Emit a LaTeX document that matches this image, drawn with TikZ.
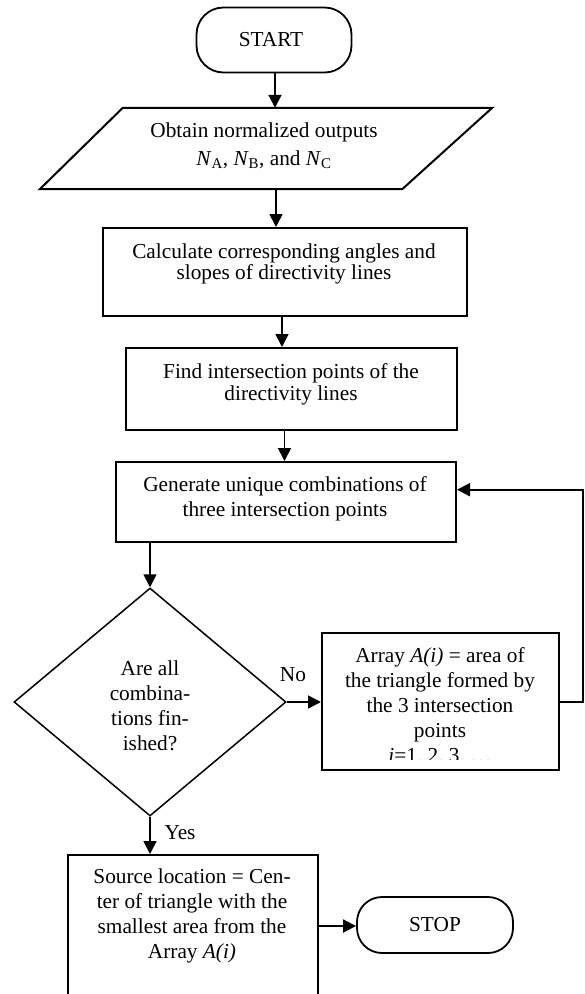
\documentclass[tikz,border=0pt]{standalone}
\usepackage{fontspec}
\setmainfont{Liberation Serif}
\usetikzlibrary{arrows.meta,shapes.geometric,calc}
\begin{document}
\begin{tikzpicture}[x=1pt,y=-1pt,
  box/.style={draw, line width=2pt, inner sep=0pt},
  term/.style={draw, line width=1.8pt, inner sep=0pt, rounded corners=27pt},
  txt/.style={align=center, inner sep=0pt, font=\fontsize{21.3}{25}\selectfont},
  txtt/.style={align=center, inner sep=0pt, font=\fontsize{21.3}{21.7}\selectfont},
  lbl/.style={inner sep=0pt, font=\fontsize{21.3}{25}\selectfont},
  arr/.style={line width=1.8pt, -{Triangle[length=13pt,width=13pt]}}]
\useasboundingbox (0,0) rectangle (585,994);
\clip (0,0) rectangle (585,994);

% terminals
\node[term, minimum width=155pt, minimum height=65pt] (start) at (274,40) {};
\node[txt] (starttxt) at (271,40) {START};
\node[term, minimum width=156pt, minimum height=56pt, rounded corners=25pt] (stop) at (435,925) {};
\node[txt] (stoptxt) at (435,925) {STOP};

% input parallelogram
\node[inner sep=0pt, minimum width=452pt, minimum height=81pt] (input) at (266,148.5) {};
\draw[line width=2pt] ($(input.north west)+(83,0)$) -- (input.north east)
  -- ($(input.south east)+(-90,0)$) -- (input.south west) -- cycle;
\node[align=center, inner sep=0pt, font=\fontsize{21.3}{28}\selectfont] (inputtxt) at (264,146)
  {Obtain normalized outputs\\\textit{N}\textsubscript{A}, \textit{N}\textsubscript{B}, and \textit{N}\textsubscript{C}};

% process boxes
\node[box, minimum width=364pt, minimum height=88pt] (calc) at (285,272) {};
\node[txtt] (calctxt) at (284,264) {Calculate corresponding angles and\\slopes of directivity lines};

\node[box, minimum width=331pt, minimum height=82pt] (find) at (291.5,389) {};
\node[txtt] (findtxt) at (291,384) {Find intersection points of the\\directivity lines};

\node[box, minimum width=340pt, minimum height=80pt] (gen) at (286,502) {};
\node[txt] (gentxt) at (285,498.5) {Generate unique combinations of\\three intersection points};

% decision
\node[draw, diamond, line width=1.5pt, inner sep=0pt, minimum width=272pt, minimum height=228pt] (dia) at (150,702) {};
\node[txt] (diatxt) at (150,705.5) {Are all\\combina-\\tions fin-\\ished?};

% array box
\node[box, minimum width=237pt, minimum height=137pt] (array) at (440.5,701.5) {};
\begin{scope}
  \clip (323,634) rectangle (558,759);
  \node[txt] (arraytxt) at (440,706.5) {Array \textit{A(i)} = area of\\the triangle formed by\\the 3 intersection\\points\\\textit{i}=1, 2, 3, \dots};
\end{scope}

% source box (bottom cut off by the page edge)
\node[box, minimum width=250pt, minimum height=142pt] (src) at (193,926) {};
\node[txt] (srctxt) at (192,916) {Source location = Cen-\\ter of triangle with the\\smallest area from the\\Array \textit{A(i)}};

% labels
\node[lbl] (no) at (293,675) {No};
\node[lbl] (yes) at (180,833) {Yes};

% connectors
\draw[arr] ([xshift=1pt]start.south) -- ([xshift=1pt]start.south |- input.north);
\draw[arr] ([xshift=10pt]input.south) -- ([xshift=10pt]input.south |- calc.north);
\draw[arr] ([xshift=-3pt]calc.south) -- ([xshift=-3pt]calc.south |- find.north);
\draw[arr] ([xshift=-7pt]find.south) -- ([xshift=-7pt]find.south |- gen.north);
\draw[arr] (gen.south -| dia.north) -- (dia.north);
\draw[arr] (dia.east) -- (dia.east -| array.west);
\draw[arr] (dia.south) -- (dia.south |- src.north);
\draw[arr] (src.east) -- (src.east -| stop.west);
\coordinate (loopin) at ($(gen.north east)!0.35!(gen.south east)$);
\coordinate (loopc) at (583,702);
\draw[arr] (array.east |- loopc) -- (loopc) |- (loopin);
\end{tikzpicture}
\end{document}
